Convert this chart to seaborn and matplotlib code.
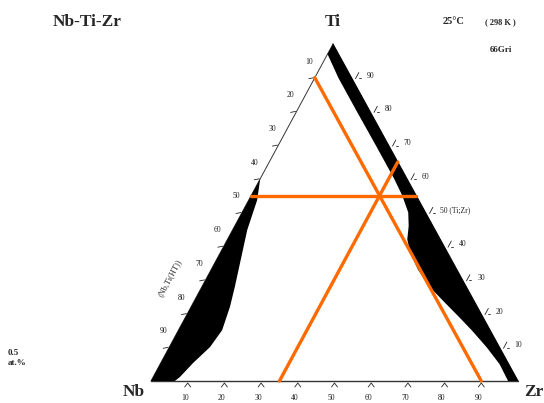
import numpy as np
import pandas as pd
import matplotlib
matplotlib.use("Agg")
import matplotlib.pyplot as plt
import seaborn as sns

# ---------------- data ----------------
system_title = "Nb-Ti-Zr"
corner_top, corner_left, corner_right = "Ti", "Nb", "Zr"
temperature_text = "25\u00b0C"
kelvin_text = "( 298 K )"
source_text = "66Gri"
scale_text = "0.5\nat.%"
phase_left = "(Nb,Ti(HT))"

tick_values = [10, 20, 30, 40, 50, 60, 70, 80, 90]          # at.%
right_tick_labels = ["90", "80", "70", "60", "50 (Ti;Zr)", "40", "30", "20", "10"]
right_tick_ti = [90, 80, 70, 60, 50, 40, 30, 20, 10]

# right (Ti,Zr) black band: inner boundary as (Ti fraction, Nb fraction)
right_band_ti = [1.00, 0.97, 0.90, 0.80, 0.70, 0.60, 0.55, 0.50, 0.46, 0.42, 0.38,
                 0.33, 0.28, 0.24, 0.19, 0.15, 0.10, 0.05, 0.00]
right_band_nb = [0.000, 0.030, 0.036, 0.036, 0.035, 0.035, 0.038, 0.047, 0.066, 0.090, 0.102,
                 0.106, 0.100, 0.085, 0.065, 0.050, 0.035, 0.025, 0.027]

# left (Nb,Ti(HT)) black band: inner boundary as (Ti fraction, Zr fraction)
left_band_ti = [0.600, 0.537, 0.448, 0.350, 0.279, 0.220, 0.151, 0.101, 0.053, 0.012, 0.000]
left_band_zr = [0.000, 0.023, 0.040, 0.069, 0.090, 0.106, 0.119, 0.111, 0.088, 0.073, 0.065]

# orange iso-composition lines
iso_ti = 0.55
iso_nb = 0.10
iso_zr = 0.35

# ---------------- geometry ----------------
V_NB = (151.0, 381.0)
V_ZR = (518.0, 381.0)
V_TI = (333.0, 44.0)


def tern(ti, zr):
    ti = np.asarray(ti, dtype=float)
    zr = np.asarray(zr, dtype=float)
    nb = 1.0 - ti - zr
    x = V_NB[0] * nb + V_ZR[0] * zr + V_TI[0] * ti
    y = V_NB[1] * nb + V_ZR[1] * zr + V_TI[1] * ti
    return x, y


sns.set_theme(style="white")
plt.rcParams["font.family"] = ["Liberation Serif", "DejaVu Serif"]

fig = plt.figure(figsize=(5.44, 4.03), dpi=100)
ax = fig.add_axes([0, 0, 1, 1])
ax.set_xlim(0, 544)
ax.set_ylim(403, 0)
ax.axis("off")

# triangle edges
ex, ey = tern([1, 0, 0], [0, 0, 1])
ax.plot(ex[:2], ey[:2], color="#333333", lw=0.7, zorder=2)
ax.plot(ex[1:], ey[1:], color="#333333", lw=1.0, zorder=2)
rx, ry = tern([1, 0], [0, 1])
ax.plot(rx, ry, color="black", lw=0.8, zorder=2)

# black bands
rb_ti = np.array(right_band_ti)
rb_zr = 1 - rb_ti - np.array(right_band_nb)
ix, iy = tern(rb_ti, rb_zr)
ox, oy = tern([0.0, 1.0], [1.0, 0.0])
ax.fill(np.r_[ix, ox], np.r_[iy, oy], color="black", lw=0, zorder=3)

lb_ti = np.array(left_band_ti)
lb_zr = np.array(left_band_zr)
ix, iy = tern(lb_ti, lb_zr)
ox, oy = tern([0.0, left_band_ti[0]], [0.0, 0.0])
ax.fill(np.r_[ix, ox], np.r_[iy, oy], color="black", lw=0, zorder=3)

# orange lines via seaborn
orange = "#ff6a00"
segs = []
x1, y1 = tern([iso_ti, iso_ti], [0.0, 1 - iso_ti])
segs.append(("ti", x1, y1))
x2, y2 = tern([1 - iso_nb, 0.0], [0.0, 1 - iso_nb])
segs.append(("nb", x2, y2))
x3, y3 = tern([0.0, 1 - iso_zr], [iso_zr, iso_zr])
segs.append(("zr", x3, y3))
for name, xs, ys in segs:
    df = pd.DataFrame({"x": xs, "y": ys})
    sns.lineplot(data=df, x="x", y="y", sort=False, estimator=None,
                 color=orange, lw=2.4, ax=ax, zorder=5)
ax.set_xlabel("")
ax.set_ylabel("")
ax.set_xlim(0, 544)
ax.set_ylim(403, 0)
ax.axis("off")

tick_fs = 5.5
tc = "#222222"
# left edge ticks (Nb at.%)
for v in tick_values:
    ti = 1 - v / 100.0
    px, py = tern(ti, 0.0)
    ax.plot([px - 6, px - 1], [py + 1, py], color=tc, lw=0.6, zorder=4)
    ax.text(px - 6, py - 16, str(v), fontsize=tick_fs, ha="center", va="center", color=tc)

# right edge ticks (Ti at.%)
d = np.array([182.0, -337.0]) / np.hypot(182, 337)
for lab, v in zip(right_tick_labels, right_tick_ti):
    ti = v / 100.0
    px, py = tern(ti, 1 - ti)
    p0 = np.array([px + 4, py + 1])
    p1 = p0 + d * 7
    ax.plot([p0[0], p1[0]], [p0[1], p1[1]], color=tc, lw=0.6, zorder=4)
    ax.plot([p0[0] + 3, p0[0] + 5], [p0[1] - 0.5, p0[1] - 0.5], color=tc, lw=0.6, zorder=4)
    ax.text(px + 15, py - 2, lab, fontsize=tick_fs, ha="left", va="center", color=tc)

# bottom ticks (Zr at.%)
for v in tick_values:
    px, py = tern(0.0, v / 100.0)
    ax.plot([px - 3, px, px + 3], [py + 6, py + 2, py + 6], color=tc, lw=0.6, zorder=4)
    ax.text(px - 3, py + 17, str(v), fontsize=tick_fs, ha="center", va="center", color=tc)

# titles and labels
bold_font = ["Liberation Serif", "DejaVu Serif"]
ax.text(87, 22, system_title, fontsize=12.5, fontweight="bold", ha="center", va="center", family=bold_font)
ax.text(333, 22, corner_top, fontsize=12.5, fontweight="bold", ha="center", va="center", family=bold_font)
ax.text(134, 392, corner_left, fontsize=12.5, fontweight="bold", ha="center", va="center", family=bold_font)
ax.text(543, 392, corner_right, fontsize=12.5, fontweight="bold", ha="right", va="center", family=bold_font)
ax.text(454, 22, temperature_text, fontsize=7.5, fontweight="bold", ha="center", va="center", family=bold_font)
ax.text(500, 22, kelvin_text, fontsize=6, fontweight="bold", ha="center", va="center", family=bold_font)
ax.text(501, 50, source_text, fontsize=6.5, fontweight="bold", ha="center", va="center", family=bold_font)
ax.text(8, 358, scale_text, fontsize=6.5, fontweight="bold", ha="left", va="center", linespacing=1.2, family=bold_font)
ax.text(170, 278, phase_left, fontsize=6, ha="center", va="center", rotation=62, family=bold_font)

fig.savefig("out.png", dpi=100, facecolor="white")
